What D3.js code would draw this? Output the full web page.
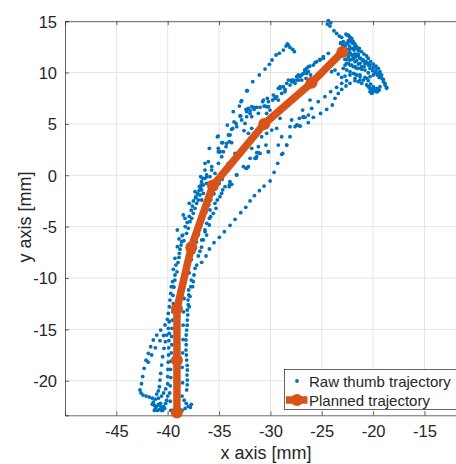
<!DOCTYPE html>
<html>
<head>
<meta charset="utf-8">
<script src="https://cdn.jsdelivr.net/npm/d3@7"></script>
<style>
  html, body { margin: 0; padding: 0; background: #ffffff; }
  svg { display: block; font-family: "Liberation Sans", Arial, Helvetica, sans-serif; }
</style>
</head>
<body>
<script>
// ---------------- DATA ----------------
const xTicks = [-45, -40, -35, -30, -25, -20, -15];
const yTicks = [-20, -15, -10, -5, 0, 5, 10, 15];
const xDomain = [-50, -10];
const yDomain = [-23.37, 15];

const plannedX = [-39.1, -39.1, -39.1, -37.7, -35.6, -30.6, -26.0, -23.0];
const plannedY = [-23.1, -18.0, -13.0, -7.0, -1.0, 5.0, 9.0, 12.0];

const legendLabels = ["Raw thumb trajectory", "Planned trajectory"];
const xLabel = "x axis [mm]";
const yLabel = "y axis [mm]";

// raw thumb samples [x, y] in mm
const rawBottom = [
  [-42.7,-20.9],[-42.6,-21.2],[-42.4,-21.4],[-42.1,-21.5],[-41.8,-21.6],[-41.5,-21.7],[-41.2,-21.8],[-40.9,-21.7],[-40.6,-21.5],[-40.4,-21.2],[-40.2,-20.8],
  [-41.4,-22.1],[-41.3,-22.4],[-41.2,-22.7],[-41.0,-22.9],[-40.8,-22.8],[-40.6,-22.6],[-40.4,-22.5],[-40.9,-22.3],[-40.7,-22.2],[-41.1,-22.5],[-40.5,-22.9],[-40.3,-22.7],[-40.2,-22.2],[-40.1,-21.9],[-40.0,-21.5],[-39.7,-22.9],[-39.5,-23.1],
  [-41.5,-22.3],[-41.3,-22.9],[-40.8,-22.4],[-40.6,-22.9],
  [-38.6,-22.9],[-38.3,-22.7],[-38.0,-22.5],[-37.8,-22.6],[-37.7,-22.3],[-38.2,-22.2],[-38.4,-21.9]
];
const rawLower = [
  // outer left loop
  [-42.55,-20.3],[-42.44,-19.6],[-42.3,-18.8],[-42.11,-18.0],[-41.88,-17.34],[-41.66,-16.69],[-41.4,-16.04],[-41.07,-15.56],[-40.68,-15.07],[-40.26,-14.58],[-40.03,-14.03],[-39.94,-13.45],[-39.84,-12.8],[-39.78,-12.15],[-39.71,-11.5],[-39.65,-10.85],
  [-41.9,-18.2],[-41.56,-17.5],[-41.2,-16.8],[-40.75,-16.1],[-40.4,-15.6],
  // inner left loop
  [-41.07,-21.3],[-40.91,-21.0],[-40.81,-20.59],[-40.75,-19.94],[-40.68,-19.29],[-40.59,-18.48],[-40.49,-17.67],[-40.36,-16.85],[-40.23,-16.2],[-40.1,-15.56],[-39.94,-14.9],[-39.84,-14.26],
  // left edge of band
  [-39.75,-22.0],[-39.8,-21.2],[-39.75,-20.5],[-39.7,-19.7],[-39.72,-18.9],[-39.68,-18.1],[-39.65,-17.3],[-39.6,-16.5],[-39.62,-15.7],[-39.58,-14.9],[-39.55,-14.1],[-39.5,-13.3],[-39.45,-12.5],[-39.48,-11.7],[-39.4,-10.9],
  [-40.0,-20.3],[-40.0,-19.6],[-39.98,-18.9],[-39.95,-18.2],[-39.92,-17.5],[-39.9,-16.8],[-39.88,-16.1],[-39.85,-15.4],
  // right edge of band
  [-38.15,-20.9],[-38.09,-19.94],[-38.09,-18.96],[-38.15,-17.99],[-38.22,-17.02],[-38.22,-16.04],[-38.15,-15.07],[-38.09,-14.1],[-38.09,-13.12],[-38.02,-12.15],[-37.96,-11.17],
  [-38.1,-20.4],[-38.12,-19.45],[-38.1,-18.5],[-38.18,-17.5],[-38.2,-16.5],[-38.2,-15.55],[-38.1,-14.6],[-38.05,-13.6],[-38.0,-12.6],[-37.95,-11.65],
  [-38.6,-21.5],[-38.55,-20.2],[-38.6,-18.7],[-38.55,-17.3],[-38.5,-16.0],[-38.5,-14.6],[-38.45,-13.3],[-38.4,-12.0],
  [-37.9,-12.8],[-37.83,-11.8],[-37.76,-10.85],[-37.7,-10.2]
];
const rawMiddle = [
  // left of planned path
  [-39.45,-10.85],[-39.52,-10.36],[-39.29,-9.71],[-39.45,-9.16],[-39.2,-8.74],[-39.29,-8.09],[-38.87,-7.6],[-39.06,-6.95],[-38.64,-6.47],[-38.42,-6.37],[-39.06,-5.33],[-38.54,-5.82],[-38.16,-5.65],[-38.0,-5.17],[-37.83,-4.52],[-37.67,-4.19],[-38.48,-3.87],[-38.32,-4.19],[-37.51,-3.71],[-37.34,-3.22],[-37.9,-2.73],[-37.18,-2.73],[-37.02,-2.41],[-37.25,-2.08],[-36.86,-1.92],[-37.34,-1.6],[-36.7,-1.43],[-36.92,-1.11],[-36.53,-0.95],[-36.7,-0.62],[-36.21,-0.79],[-36.37,-0.3],[-36.79,-0.14],[-35.88,-0.14],[-36.21,0.03],[-36.37,0.51],[-35.72,0.51],
  [-39.3,-10.2],[-39.1,-9.4],[-39.0,-8.5],[-38.9,-8.0],[-38.8,-7.2],[-38.7,-6.8],[-38.9,-6.2],[-38.6,-5.9],[-38.3,-5.0],[-38.1,-4.6],[-37.9,-4.0],[-37.7,-3.4],[-37.6,-3.0],[-37.5,-2.5],[-37.3,-2.2],[-37.1,-1.8],[-36.95,-1.5],[-36.8,-1.2],
  // right of planned path
  [-37.57,-10.85],[-37.51,-10.36],[-37.44,-9.71],[-37.34,-9.06],[-37.18,-8.74],[-37.02,-7.86],[-36.86,-7.4],[-36.7,-7.0],[-36.53,-6.3],[-36.21,-5.82],[-36.37,-5.33],[-35.95,-4.84],[-35.82,-4.03],[-35.56,-3.71],[-35.3,-3.22],[-35.4,-2.73],[-35.17,-2.41],[-34.91,-2.08],[-34.75,-1.76],[-34.65,-1.43],[-34.42,-1.11],[-34.0,-0.95],[-33.94,-0.62],[-34.1,0.51],[-33.29,0.03],[-32.38,0.68],[-32.15,0.84],[-31.5,1.65],[-31.34,1.81],
  [-37.9,-9.5],[-37.7,-8.2],[-37.5,-7.5],[-37.2,-6.5],[-37.0,-5.8],[-36.8,-4.9],[-36.6,-4.3],[-36.3,-3.6],[-36.0,-2.9],[-35.8,-2.4],[-35.5,-1.8],[-35.3,-1.3],[-35.0,-0.8],[-34.7,-0.4],
  [-36.53,-1.76],[-36.69,-2.41],[-35.88,-3.38],[-35.94,-4.19],[-36.2,-4.68],[-36.36,-5.49],[-36.69,-6.3],
  // far right sparse trial
  [-36.69,-8.48],[-36.27,-7.86],[-35.94,-7.18],[-35.49,-6.56],[-34.97,-6.04],[-34.48,-5.49],[-33.93,-4.87],[-33.44,-4.29],[-32.89,-3.64],[-32.4,-3.12],[-31.98,-2.5],[-31.56,-1.99],[-31.07,-1.5],[-30.62,-1.05],[-30.03,-0.56],[-29.64,0.29],[-29.29,1.16],[-28.9,2.04],
  [-36.75,-0.95],[-36.59,-0.3],[-36.2,-0.14],[-36.36,1.16],[-36.04,1.32],[-35.71,0.84],[-35.39,0.19],[-35.06,1.16],[-34.9,2.3],[-34.58,2.3],[-34.09,1.16],[-34.0,-1.11],[-33.77,-0.88],[-33.28,0.03],[-32.63,0.84],[-32.31,0.68],[-31.98,1.65],[-31.4,1.65],[-31.17,2.2],[-30.2,2.3]
];
const rawUpper = [
  [-35.94,2.62],[-35.16,3.75],[-35.07,2.62],[-34.91,2.29],[-34.74,3.17],[-34.26,3.11],[-34.09,3.92],[-34.0,3.27],[-33.77,4.47],[-33.61,6.19],[-33.54,5.2],[-33.44,2.13],[-33.28,4.73],[-33.12,1.87],[-32.96,5.77],[-32.86,7.16],[-32.8,5.38],[-32.57,4.34],[-32.47,5.05],[-32.31,8.23],[-32.31,6.19],[-32.15,6.51],[-32.15,4.08],[-31.98,6.29],[-31.82,5.7],[-31.82,4.57],[-31.82,2.62],[-31.72,9.11],[-31.59,6.42],[-31.33,6.61],[-31.33,2.2],[-31.17,6.03],[-31.17,4.4],[-31.08,9.76],[-31.01,6.61],[-30.85,3.75],[-30.75,7.16],[-30.62,6.74],[-30.52,10.34],[-30.43,2.94],[-30.36,6.68],[-30.3,7.49],[-30.2,7.16],[-30.2,2.29],[-30.1,10.8],[-30.04,6.35],[-29.87,4.4],[-29.84,11.22],[-29.78,7.32],[-29.55,7.49],[-29.45,11.71],[-29.39,7.65],[-29.39,4.57],[-29.23,8.46],[-29.13,11.87],[-29.06,8.62],[-29.06,5.54],[-28.9,7.97],[-28.9,3.75],[-28.74,12.19],[-28.58,8.14],[-28.48,12.58],[-28.41,8.95],[-28.41,2.94],[-28.35,12.78],[-28.25,12.68],[-28.09,12.45],[-28.09,8.78],[-28.09,4.73],[-27.93,9.27],[-27.93,5.38],[-27.83,12.26],[-27.76,9.11],[-27.67,12.03],[-27.6,8.95],[-27.6,4.73],[-27.44,9.27],[-27.37,4.89],[-27.28,9.76],[-27.18,5.54],[-27.12,9.6],[-26.95,9.27],[-26.86,6.35],[-26.63,10.25],[-26.63,5.64],[-26.47,9.92],[-26.3,10.57],[-26.3,5.86],[-26.14,7.32],
  [-35.07,3.82],[-34.64,3.17],[-35.07,2.29],[-34.74,1.81],[-34.19,4.89],[-33.93,3.92],[-33.67,4.56],[-34.32,2.78],[-33.77,3.17],[-33.35,5.05],[-32.89,5.77],[-32.8,7.26],[-33.02,6.74],[-32.24,8.23],[-32.31,5.7],[-32.37,6.41],[-31.98,6.02],[-31.82,6.67],[-31.59,6.61],
  [-30.68,7.32],[-30.52,6.74],[-30.2,6.67],[-30.36,6.02],[-29.71,7.81],[-29.55,7.49],[-29.23,7.32],[-29.06,8.46],[-28.74,8.62],[-28.57,8.36],[-28.25,9.27],[-27.93,9.11],[-27.76,9.27],[-27.44,9.6],[-27.28,9.27],[-26.95,9.76],[-26.63,10.25],[-26.47,10.41],
  [-30.36,4.08],[-29.23,2.94],[-28.8,2.13],[-28.41,2.94],[-28.09,3.75],[-27.44,4.89],[-27.12,4.79],[-26.79,5.7],[-31.17,2.78],[-31.01,2.13]
];
const rawTop = [
  [-24.36,15.05],[-24.13,14.85],[-24.46,14.72],[-24.2,14.53],
  [-23.81,14.07],[-23.55,13.81],[-23.29,13.55],[-23.06,13.43],[-22.64,13.75],[-22.41,13.65],[-22.25,13.43],[-22.09,13.23],[-21.93,13.0],[-21.77,12.78],[-21.6,12.52],[-21.34,12.35],[-21.12,12.03],[-20.89,11.8],[-20.63,11.61],[-20.47,11.38],[-20.24,11.06],[-19.98,10.83],[-19.72,10.63],[-19.49,10.41],[-19.33,10.08],[-19.17,9.76],[-19.01,9.34],[-18.84,8.95],[-18.68,8.56],
  [-23.16,12.9],[-22.9,12.68],[-22.58,12.84],[-22.32,12.58],[-22.09,12.35],[-21.86,12.19],[-22.58,12.26],[-22.25,11.93],[-21.93,11.7],[-21.67,11.54],[-21.44,11.8],[-21.28,11.38],[-21.02,11.15],[-20.79,10.89],[-20.47,10.73],[-20.31,10.41],[-20.05,10.18],[-19.82,9.98],[-19.59,9.76],[-19.4,9.53],[-22.41,11.54],[-22.09,11.28],[-21.77,11.06],[-21.44,10.83],[-21.12,10.57],[-20.79,10.24],[-20.47,9.98],[-22.58,10.89],[-22.25,10.73],[-21.93,10.57],[-21.6,10.41],[-22.74,11.28],[-22.97,11.7],[-22.84,12.03],[-23.22,12.19],[-23.39,11.38],
  [-24.04,10.08],[-23.71,10.24],[-23.39,9.85],[-23.06,9.53],[-22.74,9.66],[-22.25,9.76],[-21.77,9.85],[-21.28,9.76],[-20.79,9.53],[-20.47,9.21],[-20.24,8.88],[-19.98,8.62],[-19.66,8.46],[-19.4,8.3],[-19.82,8.23],[-20.15,8.36],[-20.37,8.56],[-20.05,8.04],[-19.59,8.14],[-19.33,8.62],
  [-27.12,4.79],[-26.31,5.12],[-25.82,5.64],[-25.11,6.02],[-24.52,6.41],[-23.97,6.84],[-23.71,7.49],[-23.39,7.97],[-23.06,8.36],[-22.64,8.69],[-22.25,8.95],[-21.77,9.21],[-21.28,9.27],
  [-26.8,5.64],[-25.98,6.51],[-25.34,7.16],[-24.69,7.65],[-24.13,8.14],[-23.55,8.56],[-23.06,8.95],[-22.58,9.21],
  [-26.63,10.24],[-26.15,10.63],[-25.66,10.96],[-25.17,11.28],[-24.85,11.54],[-24.36,11.87],
  [-26.79,9.92],[-26.3,10.09],[-25.82,10.73],[-25.49,11.06],[-25.17,11.22],[-24.85,11.38],[-26.53,9.44],[-26.08,9.76]
];
const rawCluster = [
  [-22.57,13.66],[-22.31,13.49],[-22.09,13.33],[-22.41,13.1],[-22.9,13.0],[-23.16,12.84],
  [-22.96,12.68],[-22.73,12.52],[-22.51,12.84],[-22.25,13.01],[-21.99,12.84],[-21.76,12.58],[-21.6,12.36],[-21.44,12.13],[-21.92,12.36],[-22.31,12.26],[-22.64,12.2],[-22.9,12.03],
  [-22.41,11.87],[-22.09,11.71],[-21.76,11.81],[-21.44,11.61],[-21.21,11.38],[-20.95,11.22],[-20.69,11.06],[-20.46,10.9],[-21.92,11.38],[-22.25,11.22],[-22.57,11.29],[-21.6,11.16],[-21.27,10.9],
  [-20.3,10.73],[-19.98,10.51],[-19.72,10.25],[-19.49,9.99],[-20.88,10.57],[-21.11,10.31],[-21.44,10.41],[-21.76,10.57],[-22.09,10.73],[-22.41,10.9],[-22.73,10.73],[-22.9,10.41],[-22.57,10.25],[-22.25,10.09],[-21.92,9.92],
  [-19.33,9.76],[-19.16,9.44],[-19.0,9.11],[-18.84,8.79],[-18.68,8.46],[-19.98,9.76],[-20.3,9.6],[-20.62,9.44],[-20.95,9.27],[-21.27,9.6],[-21.6,9.76],[-21.76,9.44],[-21.44,9.11],[-21.11,8.95],
  [-20.62,8.79],[-20.46,8.62],[-20.3,8.46],[-20.14,8.3],[-19.98,8.37],[-19.81,8.24],[-19.65,8.14],[-19.49,8.3],[-20.3,8.14],[-20.14,7.98]
];
const rawThumb = [].concat(rawBottom, rawLower, rawMiddle, rawUpper, rawTop, rawCluster);

// ---------------- DRAW ----------------
const W = 456, H = 464;
const svg = d3.select("body").append("svg").attr("width", W).attr("height", H);

const x = d3.scaleLinear().domain(xDomain).range([65, 475.8]);
const y = d3.scaleLinear().domain(yDomain).range([415.3, 21.2]);

const axisColor = "#262626";
const gridColor = "#e4e4e4";
const blue = "#0072BD";
const orange = "#D95319";

// grid
const grid = svg.append("g");
grid.selectAll("line.vx").data(xTicks).join("line")
  .attr("x1", d => x(d)).attr("x2", d => x(d))
  .attr("y1", y(yDomain[0])).attr("y2", y(yDomain[1]))
  .attr("stroke", gridColor).attr("stroke-width", 1);
grid.selectAll("line.hy").data(yTicks).join("line")
  .attr("x1", x(xDomain[0])).attr("x2", x(xDomain[1]))
  .attr("y1", d => y(d)).attr("y2", d => y(d))
  .attr("stroke", gridColor).attr("stroke-width", 1);

// axes (box)
const fsTick = 16.5;
const xAxisB = d3.axisBottom(x).tickValues(xTicks).tickSize(-4).tickPadding(10).tickFormat(d3.format("d"));
const xAxisT = d3.axisTop(x).tickValues(xTicks).tickSize(-4).tickFormat("");
const yAxisL = d3.axisLeft(y).tickValues(yTicks).tickSize(-4).tickPadding(8).tickFormat(d3.format("d"));

function styleAxis(g) {
  g.select(".domain").attr("stroke", axisColor).attr("stroke-width", 0.7);
  g.selectAll(".tick line").attr("stroke", axisColor).attr("stroke-width", 0.7);
  g.selectAll(".tick text").attr("fill", axisColor).attr("font-size", fsTick)
    .attr("font-family", "'Liberation Sans', Arial, sans-serif");
}
const gxb = svg.append("g").attr("transform", `translate(0,${y(yDomain[0])})`).call(xAxisB);
styleAxis(gxb);
gxb.selectAll(".tick text").text(d => String(d));
const gxt = svg.append("g").attr("transform", `translate(0,${y(yDomain[1])})`).call(xAxisT);
styleAxis(gxt);
const gyl = svg.append("g").attr("transform", `translate(${x(xDomain[0])},0)`).call(yAxisL);
styleAxis(gyl);
gyl.selectAll(".tick text").text(d => String(d)).attr("dy", "0.36em");
// right axis line (off-canvas but part of the box)
svg.append("line").attr("x1", x(xDomain[1])).attr("x2", x(xDomain[1]))
  .attr("y1", y(yDomain[0])).attr("y2", y(yDomain[1])).attr("stroke", axisColor).attr("stroke-width", 0.7);

// raw dots
svg.append("g").selectAll("circle").data(rawThumb).join("circle")
  .attr("cx", d => x(d[0])).attr("cy", d => y(d[1])).attr("r", 1.9).attr("fill", blue);

// planned trajectory
const planned = plannedX.map((v, i) => [v, plannedY[i]]);
svg.append("path").datum(planned)
  .attr("d", d3.line().x(d => x(d[0])).y(d => y(d[1])))
  .attr("fill", "none").attr("stroke", orange).attr("stroke-width", 7.5)
  .attr("stroke-linejoin", "round").attr("stroke-linecap", "butt");
svg.append("g").selectAll("circle").data(planned).join("circle")
  .attr("cx", d => x(d[0])).attr("cy", d => y(d[1])).attr("r", 6).attr("fill", orange);

// axis labels
svg.append("text").attr("x", 266).attr("y", 459).attr("text-anchor", "middle")
  .attr("font-size", 18).attr("fill", axisColor).text(xLabel);
svg.append("text").attr("transform", "translate(31,217) rotate(-90)").attr("text-anchor", "middle")
  .attr("font-size", 18).attr("fill", axisColor).text(yLabel);

// legend
const lg = svg.append("g");
lg.append("rect").attr("x", 284.5).attr("y", 369.5).attr("width", 190).attr("height", 40)
  .attr("fill", "#ffffff").attr("stroke", axisColor).attr("stroke-width", 0.7);
lg.append("circle").attr("cx", 297).attr("cy", 381).attr("r", 1.9).attr("fill", blue);
lg.append("line").attr("x1", 286).attr("x2", 307.5).attr("y1", 400).attr("y2", 400)
  .attr("stroke", orange).attr("stroke-width", 7.5);
lg.append("circle").attr("cx", 297).attr("cy", 400).attr("r", 6).attr("fill", orange);
lg.selectAll("text").data(legendLabels).join("text")
  .attr("x", 309).attr("y", (d, i) => 386.5 + i * 19)
  .attr("font-size", 15).attr("fill", axisColor).text(d => d);
</script>
</body>
</html>
